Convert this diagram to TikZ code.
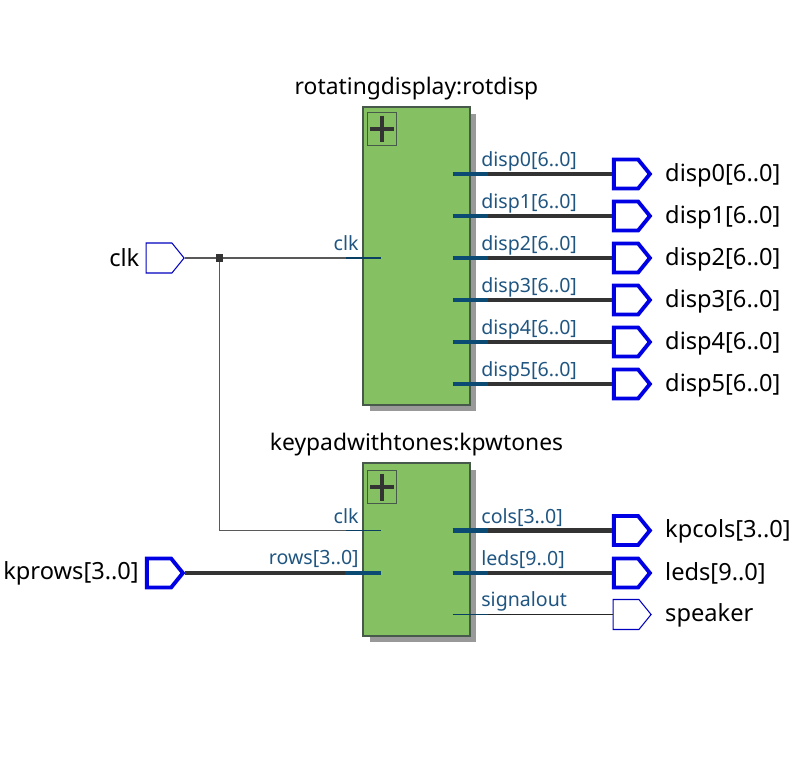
\documentclass[tikz,border=0pt]{standalone}
\usepackage{fontspec}
\setmainfont{Noto Sans}
\usetikzlibrary{shapes.symbols, shadows}

\definecolor{blockgreen}{HTML}{85C163}
\definecolor{blockedge}{HTML}{46594A}
\definecolor{pintext}{HTML}{1F5580}
\definecolor{pinteal}{HTML}{0B4A73}
\definecolor{wiredark}{HTML}{333333}

\tikzset{
	block/.style={draw=blockedge,thick,fill=blockgreen,minimum width=2.14cm,
		drop shadow={shadow xshift=0.13cm,shadow yshift=-0.13cm,fill=black!40,opacity=1}},
	plusbox/.style={draw=blockedge,fill=blockgreen,minimum width=0.58cm,minimum height=0.66cm,
		path picture={\draw[wiredark,line width=2.3pt]
			([xshift=0.05cm]path picture bounding box.west) -- ([xshift=-0.05cm]path picture bounding box.east)
			([yshift=-0.06cm]path picture bounding box.north) -- ([yshift=0.06cm]path picture bounding box.south);}},
	port/.style={shape=signal,signal to=east,signal pointer angle=102,inner sep=0pt,
		minimum width=0.76cm,minimum height=0.6cm},
	busport/.style={port,draw=blue!90!black,line width=2.2pt,minimum width=0.72cm,minimum height=0.58cm},
	bitport/.style={port,draw=blue!75!black,line width=0.6pt},
	title/.style={font=\fontsize{13}{16}\selectfont,anchor=center},
	portname/.style={font=\fontsize{13.45}{16}\selectfont,text=black},
	pinname/.style={font=\fontsize{11.15}{14}\selectfont,text=pintext,inner sep=0pt},
	bus/.style={wiredark,line width=2.3pt},
	buspin/.style={pinteal,line width=2.3pt},
	bit/.style={black!65,line width=0.8pt},
	bitpin/.style={pinteal!85!black,line width=0.8pt},
}

\begin{document}
\begin{tikzpicture}[x=0.02cm,y=-0.02cm]
	\useasboundingbox (0,0) rectangle (803,757);

	% blocks
	\node at (416.5,256) [block,minimum height=5.96cm] (rotdisp) {};
	\node at (416.5,549.5) [block,minimum height=3.46cm] (kpwtones) {};
	\node at (382,129) [plusbox] (rotplus) {};
	\node at (382,487) [plusbox] (kpwplus) {};
	\node at (416.5,88.5) [title] (rotname) {rotatingdisplay:rotdisp};
	\node at (416.5,444.5) [title] (kpwname) {keypadwithtones:kpwtones};

	% inputs
	\node at (159,258) [bitport] (clkport) {};
	\node at (159,573) [busport] (kprowsport) {};
	\node [portname,left=0pt] at (clkport.west) (clkname) {clk};
	\node [portname,left=0pt] at (kprowsport.west) (kprowsname) {kprows[3..0]};
	\coordinate (clkjoin) at (219.5,258);
	\coordinate (rotclk) at (381,258);
	\coordinate (kpwclk) at (381,530.5);
	\coordinate (kpwrows) at (381,573);
	\coordinate (kpwrowsb) at (345,573);

	% outputs
	\node at (626,174) [busport] (disp0port) {};
	\node at (626,216) [busport] (disp1port) {};
	\node at (626,258) [busport] (disp2port) {};
	\node at (626,300) [busport] (disp3port) {};
	\node at (626,342) [busport] (disp4port) {};
	\node at (626,384) [busport] (disp5port) {};
	\node at (626,530.5) [busport] (kpcolsport) {};
	\node at (626,573) [busport] (ledsport) {};
	\node at (626,614.5) [bitport] (speakerport) {};

	\node [portname,anchor=west] at (659,175) (disp0name) {disp0[6..0]};
	\node [portname,anchor=west] at (659,217) (disp1name) {disp1[6..0]};
	\node [portname,anchor=west] at (659,259) (disp2name) {disp2[6..0]};
	\node [portname,anchor=west] at (659,301) (disp3name) {disp3[6..0]};
	\node [portname,anchor=west] at (659,343) (disp4name) {disp4[6..0]};
	\node [portname,anchor=west] at (659,385) (disp5name) {disp5[6..0]};
	\node [portname,anchor=west] at (659,531) (kpcolsname) {kpcols[3..0]};
	\node [portname,anchor=west] at (659,573) (ledsname) {leds[9..0]};
	\node [portname,anchor=west] at (659,615) (speakername) {speaker};

	\coordinate (rot0a) at (452.5,174); \coordinate (rot0b) at (487.5,174);
	\coordinate (rot1a) at (452.5,216); \coordinate (rot1b) at (487.5,216);
	\coordinate (rot2a) at (452.5,258); \coordinate (rot2b) at (487.5,258);
	\coordinate (rot3a) at (452.5,300); \coordinate (rot3b) at (487.5,300);
	\coordinate (rot4a) at (452.5,342); \coordinate (rot4b) at (487.5,342);
	\coordinate (rot5a) at (452.5,384); \coordinate (rot5b) at (487.5,384);
	\coordinate (colsa) at (452.5,530.5); \coordinate (colsb) at (487.5,530.5);
	\coordinate (ledsa) at (452.5,573); \coordinate (ledsb) at (487.5,573);
	\coordinate (siga) at (452.5,614.5); \coordinate (sigb) at (487.5,614.5);

	% connectors
	\draw[bit] (clkport.east) -- (clkjoin);
	\draw[bit] (clkjoin) -- (rotclk);
	\draw[bit] (clkjoin) |- (kpwclk);
	\fill[wiredark] ([xshift=-2.2,yshift=-2.2]clkjoin) rectangle ([xshift=2.2,yshift=2.2]clkjoin);
	\draw[bitpin] ([xshift=-0.7cm]rotclk) -- (rotclk);
	\draw[bitpin] ([xshift=-0.7cm]kpwclk) -- (kpwclk);
	\draw[bus] (kprowsport.east) -- (kpwrowsb);
	\draw[buspin] (kpwrowsb) -- (kpwrows);

	\draw[bus] (rot0b) -- (disp0port.west);
	\draw[bus] (rot1b) -- (disp1port.west);
	\draw[bus] (rot2b) -- (disp2port.west);
	\draw[bus] (rot3b) -- (disp3port.west);
	\draw[bus] (rot4b) -- (disp4port.west);
	\draw[bus] (rot5b) -- (disp5port.west);
	\draw[bus] (colsb) -- (kpcolsport.west);
	\draw[bus] (ledsb) -- (ledsport.west);
	\draw[bit,black!85] (sigb) -- (speakerport.west);
	\draw[buspin] (rot0a) -- (rot0b);
	\draw[buspin] (rot1a) -- (rot1b);
	\draw[buspin] (rot2a) -- (rot2b);
	\draw[buspin] (rot3a) -- (rot3b);
	\draw[buspin] (rot4a) -- (rot4b);
	\draw[buspin] (rot5a) -- (rot5b);
	\draw[buspin] (colsa) -- (colsb);
	\draw[buspin] (ledsa) -- (ledsb);
	\draw[bitpin] (siga) -- (sigb);

	% pin labels
	\node [pinname,anchor=base east] at (359,250) (rotclkpin) {clk};
	\node [pinname,anchor=base east] at (359,523) (kpwclkpin) {clk};
	\node [pinname,anchor=base east] at (359,564) (kpwrowspin) {rows[3..0]};
	\node [pinname,anchor=base west] at (481,166) (rot0pin) {disp0[6..0]};
	\node [pinname,anchor=base west] at (481,208) (rot1pin) {disp1[6..0]};
	\node [pinname,anchor=base west] at (481,250) (rot2pin) {disp2[6..0]};
	\node [pinname,anchor=base west] at (481,292) (rot3pin) {disp3[6..0]};
	\node [pinname,anchor=base west] at (481,334) (rot4pin) {disp4[6..0]};
	\node [pinname,anchor=base west] at (481,376) (rot5pin) {disp5[6..0]};
	\node [pinname,anchor=base west] at (481,523) (colspin) {cols[3..0]};
	\node [pinname,anchor=base west] at (481,565) (ledspin) {leds[9..0]};
	\node [pinname,anchor=base west] at (481,606) (sigpin) {signalout};
\end{tikzpicture}
\end{document}
